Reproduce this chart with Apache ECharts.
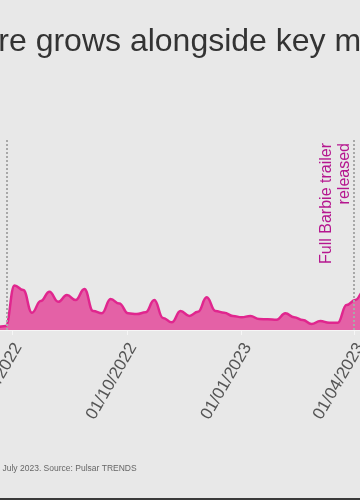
<!DOCTYPE html>
<html><head><meta charset="utf-8">
<script src="https://cdn.jsdelivr.net/npm/echarts@6/dist/echarts.min.js"></script>
<style>
html,body{margin:0;padding:0;width:360px;height:500px;overflow:hidden;background:#e8e8e8;}
#wrap{position:relative;width:360px;height:500px;overflow:hidden;background:#e8e8e8;}
#chart{position:absolute;left:-200px;top:0;width:640px;height:500px;}
#rule{position:absolute;left:0;top:498px;width:360px;height:2px;background:#3a3a3a;}
</style></head><body>
<div id="wrap"><div id="chart"></div><div id="rule"></div></div>
<script>
const titleText = 'Barbiecore grows alongside key moments';
const footnoteText = 'July 2023. Source: Pulsar TRENDS';
const weeks = ['2022-06-05','2022-06-12','2022-06-19','2022-06-26',
  '2022-07-03','2022-07-10','2022-07-17','2022-07-24','2022-07-31',
  '2022-08-07','2022-08-14','2022-08-21','2022-08-28',
  '2022-09-04','2022-09-11','2022-09-18','2022-09-25',
  '2022-10-02','2022-10-09','2022-10-16','2022-10-23','2022-10-30',
  '2022-11-06','2022-11-13','2022-11-20','2022-11-27',
  '2022-12-04','2022-12-11','2022-12-18','2022-12-25',
  '2023-01-01','2023-01-08','2023-01-15','2023-01-22','2023-01-29',
  '2023-02-05','2023-02-12','2023-02-19','2023-02-26',
  '2023-03-05','2023-03-12','2023-03-19','2023-03-26',
  '2023-04-02','2023-04-09','2023-04-16','2023-04-23','2023-04-30'];
const shareValues = [1.6,1.6,1.6,2.1,
  23.2,20.8,9.0,15.1,19.9,
  14.7,18.2,15.6,21.4,
  9.9,8.7,16.1,13.8,
  8.7,8.3,9.2,15.6,6.3,
  4.0,9.9,7.3,9.5,
  17.0,9.9,9.0,7.3,
  6.6,7.3,5.7,5.6,5.4,
  8.7,6.6,5.2,3.1,
  4.7,3.8,3.8,13.0,
  15.6,20.3,24,26,28];
const tickDates = ['2022-07-01','2022-10-01','2023-01-01','2023-04-01'];
const eventDates = ['2022-06-27','2023-04-01'];
const eventLabels = ['', 'Full Barbie trailer\nreleased'];
const axisMinDate = '2022-06-01';
const axisMaxDate = '2023-05-01';

const ts = s => Date.parse(s + 'T00:00:00Z');
const pad = n => (n < 10 ? '0' : '') + n;
const fmtDate = v => { const d = new Date(v); return pad(d.getUTCDate()) + '/' + pad(d.getUTCMonth() + 1) + '/' + d.getUTCFullYear(); };
const chart = echarts.init(document.getElementById('chart'), null, {renderer:'canvas'});
const font = 'Liberation Sans, Arial, sans-serif';
chart.setOption({
  backgroundColor: '#e8e8e8',
  animation: false,
  title: [
    {text: titleText, left: 72, top: 26, padding: 0,
     textStyle: {fontFamily: font, fontSize: 32, fontWeight: 'normal', color: '#333333'}},
    {text: footnoteText, left: 202.5, top: 464, padding: 0,
     textStyle: {fontFamily: font, fontSize: 8.5, fontWeight: 'normal', color: '#666666'}}
  ],
  grid: {left: 174.56, right: 48.56, top: 138, bottom: 170, containLabel: false},
  xAxis: {
    type: 'value', min: ts(axisMinDate), max: ts(axisMaxDate), scale: true,
    axisLine: {show: true, lineStyle: {color: '#f6f6f6', width: 1}},
    axisTick: {show: true, length: 5, lineStyle: {color: '#f6f6f6'}, customValues: tickDates.map(ts)},
    splitLine: {show: false},
    axisLabel: {
      customValues: tickDates.map(ts), rotate: 60, margin: 11, verticalAlign: 'top', lineHeight: 14,
      fontFamily: font, fontSize: 17, color: '#555555',
      formatter: v => fmtDate(v)
    }
  },
  yAxis: {type: 'value', min: 0, max: 100, show: false, splitLine: {show: false}},
  series: [{
    type: 'line',
    data: weeks.map((d, i) => [ts(d), shareValues[i]]),
    smooth: 0.45,
    smoothMonotone: 'x',
    showSymbol: false,
    lineStyle: {color: '#e0268e', width: 2.5},
    areaStyle: {color: '#e461a6', opacity: 1},
    markLine: {
      silent: true, symbol: 'none',
      lineStyle: {type: 'dotted', color: '#a8a8a8', width: 2},
      data: eventDates.map((d, i) => ({
        xAxis: ts(d),
        label: eventLabels[i] ? {
          show: true, position: 'insideEndTop', formatter: eventLabels[i],
          fontFamily: font, fontSize: 16, lineHeight: 18, color: '#b5168f', distance: [5, 0]
        } : {show: false}
      }))
    }
  }]
});
</script>
</body></html>
